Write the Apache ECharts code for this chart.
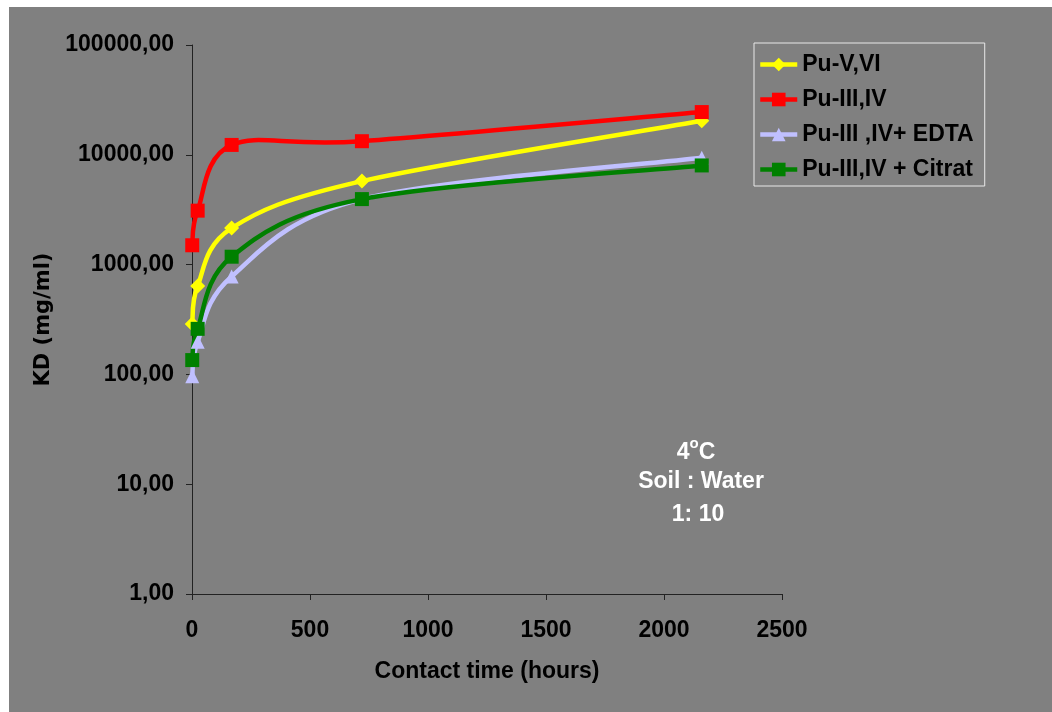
<!DOCTYPE html>
<html>
<head>
<meta charset="utf-8">
<script src="https://cdn.jsdelivr.net/npm/echarts@6/dist/echarts.min.js"></script>
<style>
  html, body { margin: 0; padding: 0; background: #ffffff; }
  #chart { position: absolute; left: 9px; top: 7px; width: 1043px; height: 705px; }
</style>
</head>
<body>
<div id="chart"></div>
<script>
// Contact time in hours
const hours = [1, 24, 168, 720, 2160];

// KD values (mg/ml) per plutonium species
const puV_VI = [288, 640, 2150, 5760, 20400];
const puIII_IV = [1500, 3100, 12300, 13300, 24500];
const puIII_IV_EDTA = [96, 198, 780, 3950, 9400];
const puIII_IV_Citrat = [135, 260, 1180, 3950, 8000];

const seriesNames = ['Pu-V,VI', 'Pu-III,IV', 'Pu-III ,IV+ EDTA', 'Pu-III,IV + Citrat'];
const seriesColors = ['#ffff00', '#ff0000', '#c0c0ff', '#008000'];
const xTicks = [0, 500, 1000, 1500, 2000, 2500];
const yTicks = [1, 10, 100, 1000, 10000, 100000];

const ARIAL = 'Liberation Sans, Arial, sans-serif';
const LINE_W = 4.5;

const pairs = (ys) => hours.map((h, i) => [h, ys[i]]);

// Smoothed curve through the points (Catmull-Rom style cubic segments),
// positioned through the cartesian axes with api.coord.
function curveSeries(ys, color) {
  return {
    type: 'custom',
    coordinateSystem: 'cartesian2d',
    data: [[hours[0], ys[0]]],
    silent: true,
    z: 2,
    renderItem: (params, api) => {
      const p = hours.map((h, i) => api.coord([h, ys[i]]));
      const children = [];
      for (let i = 0; i < p.length - 1; i++) {
        const p0 = p[Math.max(i - 1, 0)];
        const p1 = p[i];
        const p2 = p[i + 1];
        const p3 = p[Math.min(i + 2, p.length - 1)];
        children.push({
          type: 'bezierCurve',
          shape: {
            x1: p1[0], y1: p1[1],
            cpx1: p1[0] + (p2[0] - p0[0]) / 6, cpy1: p1[1] + (p2[1] - p0[1]) / 6,
            cpx2: p2[0] - (p3[0] - p1[0]) / 6, cpy2: p2[1] - (p3[1] - p1[1]) / 6,
            x2: p2[0], y2: p2[1]
          },
          style: { fill: null, stroke: color, lineWidth: LINE_W, lineCap: 'round' }
        });
      }
      return { type: 'group', children: children };
    }
  };
}

// Markers (and legend entries) for each series
function markerSeries(name, ys, color, symbol, size) {
  return {
    name: name,
    type: 'line',
    data: pairs(ys),
    symbol: symbol,
    symbolSize: size,
    showSymbol: true,
    lineStyle: { width: 0, opacity: 0 },
    itemStyle: { color: color },
    z: 3,
    emphasis: { disabled: true }
  };
}

const chart = echarts.init(document.getElementById('chart'));
chart.setOption({
  backgroundColor: '#808080',
  animation: false,
  grid: { left: 183, top: 38, width: 590, height: 549 },
  legend: {
    left: 745, top: 36,
    orient: 'vertical',
    backgroundColor: '#808080',
    borderColor: '#e8e8e8',
    borderWidth: 1,
    padding: [10, 11, 5, 4],
    itemWidth: 37, itemHeight: 17, itemGap: 12,
    textStyle: { color: '#000', fontSize: 23, fontWeight: 'bold', fontFamily: ARIAL },
    data: seriesNames.map((n, i) => ({
      name: n,
      lineStyle: { color: seriesColors[i], width: LINE_W, opacity: 1 }
    }))
  },
  xAxis: {
    type: 'value',
    min: 0, max: 2500, interval: 500,
    name: 'Contact time (hours)',
    nameLocation: 'middle',
    nameGap: 66,
    nameTextStyle: { color: '#000', fontSize: 23, fontWeight: 'bold', fontFamily: ARIAL },
    axisLine: { show: true, lineStyle: { color: '#222', width: 1 } },
    axisTick: { show: true, length: 6, lineStyle: { color: '#222' } },
    axisLabel: {
      color: '#000', fontSize: 23, fontWeight: 'bold', fontFamily: ARIAL, margin: 25,
      formatter: (v) => xTicks.indexOf(v) >= 0 ? String(v) : ''
    },
    splitLine: { show: false }
  },
  yAxis: {
    type: 'log',
    logBase: 10,
    min: 1, max: 100000,
    name: 'KD (mg/ml)',
    nameLocation: 'middle',
    nameGap: 137,
    nameTextStyle: { color: '#000', fontSize: 21, fontWeight: 'bold', fontFamily: 'DejaVu Sans, Verdana, sans-serif' },
    axisLine: { show: true, lineStyle: { color: '#222', width: 1 } },
    axisTick: { show: true, length: 6, lineStyle: { color: '#222' } },
    axisLabel: {
      color: '#000', fontSize: 23, fontWeight: 'bold', fontFamily: ARIAL, margin: 18,
      formatter: (v) => yTicks.indexOf(Math.round(v)) >= 0 ? Number(v).toFixed(2).replace('.', ',') : ''
    },
    splitLine: { show: false }
  },
  graphic: [
    {
      type: 'text', x: 687, y: 443, z: 10,
      style: {
        text: '{a|4}{s|o}{a|C}',
        align: 'center', verticalAlign: 'middle',
        rich: {
          a: { fill: '#fff', fontSize: 23, fontWeight: 'bold', fontFamily: ARIAL, lineHeight: 28, verticalAlign: 'bottom' },
          s: { fill: '#fff', fontSize: 15, fontWeight: 'bold', fontFamily: ARIAL, lineHeight: 28, verticalAlign: 'top' }
        }
      }
    },
    {
      type: 'text', x: 692, y: 475, z: 10,
      style: { text: 'Soil : Water', align: 'center', verticalAlign: 'middle',
        fill: '#fff', fontSize: 23, fontWeight: 'bold', fontFamily: ARIAL }
    },
    {
      type: 'text', x: 689, y: 508, z: 10,
      style: { text: '1: 10', align: 'center', verticalAlign: 'middle',
        fill: '#fff', fontSize: 23, fontWeight: 'bold', fontFamily: ARIAL }
    }
  ],
  series: [
    curveSeries(puV_VI, seriesColors[0]),
    curveSeries(puIII_IV, seriesColors[1]),
    curveSeries(puIII_IV_EDTA, seriesColors[2]),
    curveSeries(puIII_IV_Citrat, seriesColors[3]),
    markerSeries(seriesNames[0], puV_VI, seriesColors[0], 'diamond', 15),
    markerSeries(seriesNames[1], puIII_IV, seriesColors[1], 'rect', 14),
    markerSeries(seriesNames[2], puIII_IV_EDTA, seriesColors[2], 'triangle', 14),
    markerSeries(seriesNames[3], puIII_IV_Citrat, seriesColors[3], 'rect', 14)
  ]
});
</script>
</body>
</html>
